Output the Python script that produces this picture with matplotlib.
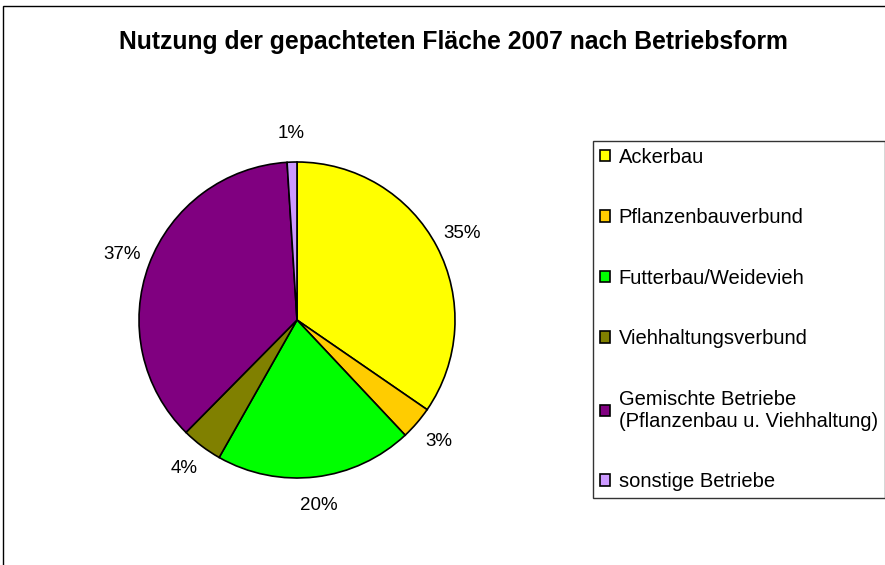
import matplotlib
matplotlib.use('Agg')
import matplotlib.pyplot as plt
from matplotlib.patches import Rectangle

# --- Daten ---
kategorien = ["Ackerbau", "Pflanzenbauverbund", "Futterbau/Weidevieh",
              "Viehhaltungsverbund",
              "Gemischte Betriebe\n(Pflanzenbau u. Viehhaltung)",
              "sonstige Betriebe"]
anteile = [34.6, 3.4, 20.2, 4.2, 36.6, 1.0]
farben = ["#FFFF00", "#FFCC00", "#00FF00", "#808000", "#800080", "#CC99FF"]

W, H = 885, 565
plt.rcParams['font.family'] = ['Liberation Sans', 'DejaVu Sans']

fig = plt.figure(figsize=(W / 100, H / 100), dpi=100)

# Rahmen um den Diagrammbereich
fig.patches.append(Rectangle((3 / W, -0.1), 1.2, (H - 6) / H + 0.1,
                             transform=fig.transFigure, fill=False,
                             edgecolor="black", linewidth=1.0))

cx, cy, r = 297, 320, 158
ax = fig.add_axes([(cx - r) / W, (H - cy - r) / H, 2 * r / W, 2 * r / H])
wedges, _, autotexts = ax.pie(anteile, colors=farben, startangle=90,
                              counterclock=False, autopct="%.0f%%",
                              pctdistance=1.18,
                              wedgeprops=dict(edgecolor="black", linewidth=1.2),
                              textprops=dict(fontsize=13.5))
ax.set_xlim(-1, 1)
ax.set_ylim(-1, 1)

fig.text(453 / W, 1 - 42 / H, "Nutzung der gepachteten Fläche 2007 nach Betriebsform",
         ha="center", va="center", fontsize=17.8, fontweight="bold")

leg = fig.legend(wedges, kategorien, loc="upper left",
                 bbox_to_anchor=(593 / W, 1 - 141 / H),
                 frameon=True, fancybox=False, fontsize=14.5,
                 handlelength=0.5, handleheight=0.5, handletextpad=0.45,
                 labelspacing=2.06, borderpad=0.33, borderaxespad=0)
leg.get_frame().set_edgecolor("black")
leg.get_frame().set_linewidth(1.0)

fig.savefig("out.png", dpi=100)
